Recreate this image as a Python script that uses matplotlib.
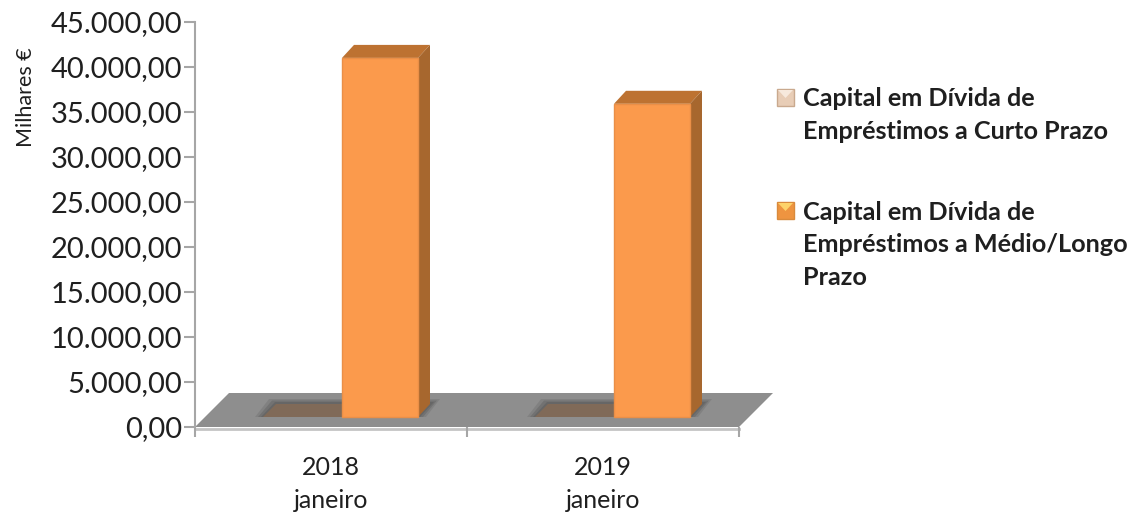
import matplotlib
matplotlib.use("Agg")
import matplotlib.pyplot as plt
from matplotlib.patches import Polygon, Rectangle

plt.rcParams['font.family'] = ['Lato', 'DejaVu Sans']

W, H = 1146, 515

categories = ["2018\njaneiro", "2019\njaneiro"]
curto_prazo = [0, 0]
longo_prazo = [39900, 34800]
y_ticks = [0, 5000, 10000, 15000, 20000, 25000, 30000, 35000, 40000, 45000]
y_labels = ["0,00", "5.000,00", "10.000,00", "15.000,00", "20.000,00",
            "25.000,00", "30.000,00", "35.000,00", "40.000,00", "45.000,00"]
legend_labels = ["Capital em Dívida de\nEmpréstimos a Curto Prazo",
                 "Capital em Dívida de\nEmpréstimos a Médio/Longo\nPrazo"]

GREY = "#a6a6a6"
TXT = "#1f1f1f"

fig = plt.figure(figsize=(W / 100, H / 100), dpi=100)
# axes box in pixels: x 195-739, y 22-427
ax = fig.add_axes([195 / W, 1 - 427 / H, 544 / W, 405 / H])
ax.set_xlim(-0.5, 1.5)
ax.set_ylim(0, 45000)
ax.patch.set_alpha(0)

ux = 1 / 272    # one pixel in category units
uy = 45000 / 405  # one pixel in value units


def para(x0, x1, y, dx, dy, **kw):
    ax.add_patch(Polygon([(x0, y), (x1, y), (x1 + dx, y + dy), (x0 + dx, y + dy)],
                         closed=True, clip_on=False, lw=0, **kw))


# floor
para(-0.5, 1.5, 0, 34 * ux, 34 * uy, facecolor="#8e8e8e", zorder=1)
ax.plot([-0.5, 1.5], [-1.5 * uy, -1.5 * uy], color="#c4c4c4", lw=2, clip_on=False, zorder=1)

base = 10 * uy    # bars stand a little behind the front edge of the floor
off = 10 * ux
bw = 78 * ux
dep = 12

for i in range(len(categories)):
    left = i + off - bw
    mid = i + off + 1 * ux
    right = mid + 76 * ux

    # shadow on the floor
    for grow, a in [(8, 0.2), (5, 0.3), (2, 0.35)]:
        para(left - grow * ux, right + grow * ux, base,
             14 * ux, (14 + grow / 2) * uy, facecolor="#505050", alpha=a, zorder=2)

    # short term series is flat on the floor
    para(left, mid, base + curto_prazo[i], 13 * ux, 13 * uy, facecolor="#806a58", zorder=3)

    # long term series
    v = longo_prazo[i]
    ax.bar(mid, v, width=76 * ux, bottom=base, align="edge", color="#fb9a4c",
           edgecolor="#ea8f47", lw=1, zorder=5, clip_on=False)
    para(mid, right, base + v, dep * ux, 13 * uy, facecolor="#bd7231", zorder=4)
    ax.add_patch(Polygon([(right, base), (right + dep * ux, base + 13 * uy),
                          (right + dep * ux, base + v + 13 * uy), (right, base + v)],
                         closed=True, facecolor="#a7672e", lw=0, zorder=4, clip_on=False))

for s in ["top", "right"]:
    ax.spines[s].set_visible(False)
ax.spines["bottom"].set_visible(False)
ax.spines["left"].set_color(GREY)
ax.spines["left"].set_linewidth(1.5)

ax.set_yticks(y_ticks)
ax.set_yticklabels(y_labels, fontsize=21, color=TXT)
ax.tick_params(axis="y", length=8, width=1.5, color=GREY, pad=1)

ax.set_xticks([-0.5, 0.5, 1.5])
ax.set_xticklabels([])
ax.tick_params(axis="x", length=7, width=1.5, color=GREY)
ax.set_xticks([0, 1], minor=True)
ax.set_xticklabels(categories, minor=True, fontsize=18, color=TXT, linespacing=1.5)
ax.tick_params(axis="x", which="minor", length=0, pad=21)

# overlay in pixel coordinates for the legend and axis title
ov = fig.add_axes([0, 0, 1, 1])
ov.set_xlim(0, W)
ov.set_ylim(H, 0)
ov.axis("off")
ov.patch.set_alpha(0)

ov.text(26, 97, "Milhares €", rotation=90, fontsize=15.5, color=TXT, ha="center", va="center")


def swatch(x, y, edge, body, light):
    ov.add_patch(Rectangle((x, y), 17, 17, facecolor=body, edgecolor=edge, lw=1))
    ov.add_patch(Polygon([(x + 1, y + 1), (x + 16, y + 1), (x + 8.5, y + 9)], closed=True,
                         facecolor=light, lw=0))


swatch(777, 89, "#c9a98e", "#e8cdb6", "#f7e9dc")
swatch(777, 202, "#d98a3c", "#ee9440", "#fdd36a")

ov.text(803, 115, legend_labels[0], fontsize=18.2, fontweight="bold", color=TXT,
        ha="left", va="center", linespacing=1.52)
ov.text(803, 245, legend_labels[1], fontsize=18.2, fontweight="bold", color=TXT,
        ha="left", va="center", linespacing=1.52)

fig.savefig("out.png", dpi=100)
